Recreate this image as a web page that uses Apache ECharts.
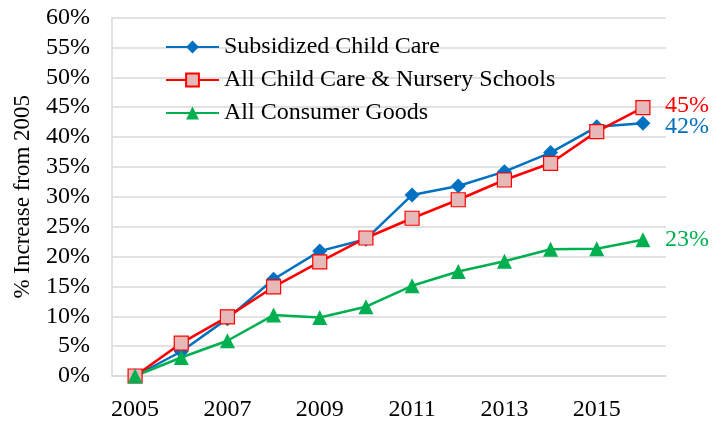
<!DOCTYPE html>
<html>
<head>
<meta charset="utf-8">
<script src="https://cdn.jsdelivr.net/npm/echarts@6/dist/echarts.min.js"></script>
<style>html,body{margin:0;padding:0;background:#fff;}#c{width:712px;height:422px;}</style>
</head>
<body>
<div id="c"></div>
<script>
var years = ['2005','2006','2007','2008','2009','2010','2011','2012','2013','2014','2015','2016'];
var subsidized = [0, 4.1, 9.6, 16.2, 20.9, 22.9, 30.3, 31.8, 34.2, 37.4, 41.7, 42.3];
var allChildCare = [0, 5.5, 9.9, 14.9, 19.1, 23.1, 26.4, 29.5, 32.8, 35.6, 40.9, 44.9];
var consumerGoods = [0, 3.1, 5.9, 10.2, 9.8, 11.6, 15.1, 17.5, 19.2, 21.2, 21.3, 22.8];
var yTicks = {min: 0, max: 60, interval: 5};

var FONT = 'Liberation Serif';
var chart = echarts.init(document.getElementById('c'));
function endLbl(color, off) {
  return {show: true, color: color, fontFamily: FONT, fontSize: 24, distance: 0, offset: off,
    formatter: function (p) { return Math.round(p.value) + '%'; }};
}
chart.setOption({
  animation: false,
  textStyle: {fontFamily: FONT},
  grid: {left: 112, right: 46, top: 17.5, bottom: 46},
  legend: {
    orient: 'vertical', left: 160, top: 30, itemGap: 9, itemWidth: 53, itemHeight: 16,
    textStyle: {fontFamily: FONT, fontSize: 24, color: '#000'},
    data: ['Subsidized Child Care', 'All Child Care & Nursery Schools', 'All Consumer Goods']
  },
  xAxis: {
    type: 'category', data: years, boundaryGap: true,
    axisLine: {lineStyle: {color: '#d9d9d9', width: 1.5}},
    axisTick: {show: false},
    axisLabel: {interval: 1, color: '#000', fontSize: 24, fontFamily: FONT, margin: 22}
  },
  yAxis: {
    type: 'value', min: yTicks.min, max: yTicks.max, interval: yTicks.interval,
    name: '% Increase from 2005', nameLocation: 'middle', nameGap: 78,
    nameTextStyle: {color: '#000', fontSize: 23, fontFamily: FONT},
    axisLine: {show: true, lineStyle: {color: '#d9d9d9', width: 1.5}},
    axisTick: {show: false},
    splitLine: {lineStyle: {color: '#d9d9d9', width: 1.5}},
    axisLabel: {formatter: '{value}%', color: '#000', fontSize: 24, fontFamily: FONT, margin: 22}
  },
  series: [
    {name: 'Subsidized Child Care', type: 'line', data: subsidized,
      symbol: 'diamond', symbolSize: 15,
      lineStyle: {color: '#0070C0', width: 2.5},
      itemStyle: {color: '#0070C0'},
      endLabel: endLbl('#0070C0', [22, 3])},
    {name: 'All Child Care & Nursery Schools', type: 'line', data: allChildCare,
      symbol: 'rect', symbolSize: 14,
      lineStyle: {color: '#FF0000', width: 2.5},
      itemStyle: {color: '#E6B9B8', borderColor: '#FF0000', borderWidth: 1.2},
      endLabel: endLbl('#FF0000', [22, -2])},
    {name: 'All Consumer Goods', type: 'line', data: consumerGoods,
      symbol: 'triangle', symbolSize: 15,
      lineStyle: {color: '#00B050', width: 2.5},
      itemStyle: {color: '#00B050'},
      endLabel: endLbl('#00B050', [22, 0])}
  ]
});
</script>
</body>
</html>
